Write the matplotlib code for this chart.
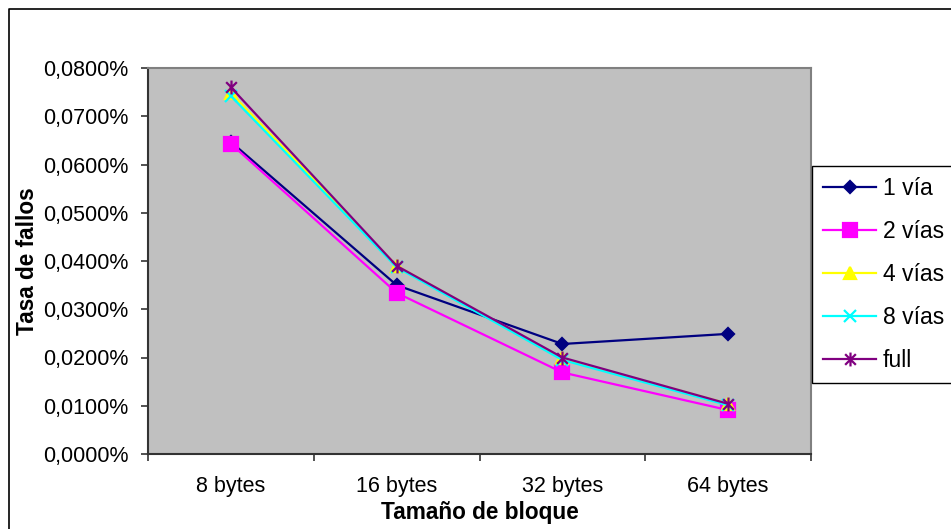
import matplotlib
matplotlib.use("Agg")
import matplotlib.pyplot as plt
from matplotlib.path import Path
from matplotlib.lines import Line2D
from matplotlib.ticker import FixedLocator, FuncFormatter

plt.rcParams["font.family"] = ["Liberation Sans", "DejaVu Sans"]
plt.rcParams["font.size"] = 15.5

# data (miss rate, in %)
categories = ["8 bytes", "16 bytes", "32 bytes", "64 bytes"]
via_1 = [0.0647, 0.0350, 0.0228, 0.0249]
vias_2 = [0.0643, 0.0334, 0.0169, 0.0091]
vias_4 = [0.0748, 0.0390, 0.0198, 0.0104]
vias_8 = [0.0742, 0.0387, 0.0195, 0.0101]
full = [0.0760, 0.0390, 0.0200, 0.0104]

# Excel-style "star": an x with a vertical bar
star = Path([(-1, -1), (1, 1), (-1, 1), (1, -1), (0, -1.3), (0, 1.3)],
            [Path.MOVETO, Path.LINETO, Path.MOVETO, Path.LINETO, Path.MOVETO, Path.LINETO])

series = [
    ("1 vía", via_1, "#000080", "D", 6.5),
    ("2 vías", vias_2, "#FF00FF", "s", 10),
    ("4 vías", vias_4, "#FFFF00", "^", 9),
    ("8 vías", vias_8, "#00FFFF", "x", 9),
    ("full", full, "#800080", star, 10),
]

W, H = 951, 529
fig = plt.figure(figsize=(W / 100, H / 100), dpi=100)
# chart-area border (left and top visible, rest runs off the picture)
top = 1 - 8.5 / H
left = 8.5 / W
fig.lines.append(Line2D([left, left, 1.01], [-0.01, top, top], transform=fig.transFigure,
                        color="#000000", linewidth=1.2))

ax = fig.add_axes([148 / W, 1 - 454 / H, (811 - 148) / W, (454 - 68) / H])
ax.set_facecolor("#C0C0C0")

xs = list(range(len(categories)))
for label, ys, color, marker, ms in series:
    ax.plot(xs, ys, color=color, linewidth=1.6, marker=marker, markersize=ms,
            markeredgecolor=color, markerfacecolor=color, markeredgewidth=1.6, label=label)

ax.set_xlim(-0.5, 3.5)
ax.set_ylim(0, 0.08)
ax.set_yticks([i * 0.01 for i in range(9)])
ax.yaxis.set_major_formatter(FuncFormatter(lambda v, p: f"{v:.4f}%".replace(".", ",")))
ax.set_xticks(xs)
ax.set_xticklabels(categories)
ax.xaxis.set_minor_locator(FixedLocator([-0.5, 0.5, 1.5, 2.5, 3.5]))
ax.tick_params(axis="x", which="major", length=0, pad=16)
ax.tick_params(axis="x", which="minor", length=5, width=1.2, color="#333333")
ax.tick_params(axis="y", length=5, width=1.2, color="#333333", pad=9)

for side in ("top", "right"):
    ax.spines[side].set_color("#808080")
    ax.spines[side].set_linewidth(1.5)
for side in ("left", "bottom"):
    ax.spines[side].set_color("#333333")
    ax.spines[side].set_linewidth(1.5)

ax.set_xlabel("Tamaño de bloque", fontweight="bold", fontsize=16.3, labelpad=2.5)
ax.set_ylabel("Tasa de fallos", fontweight="bold", fontsize=16.3, labelpad=3)

leg = fig.legend(loc="upper left", bbox_to_anchor=(812 / W, 1 - 166 / H), borderaxespad=0,
                 fancybox=False, edgecolor="#000000", framealpha=1, fontsize=16.5,
                 handlelength=2.3, handletextpad=0.28, labelspacing=0.865, borderpad=0.5)
leg.get_frame().set_linewidth(1.0)

fig.savefig("out.png", dpi=100)
